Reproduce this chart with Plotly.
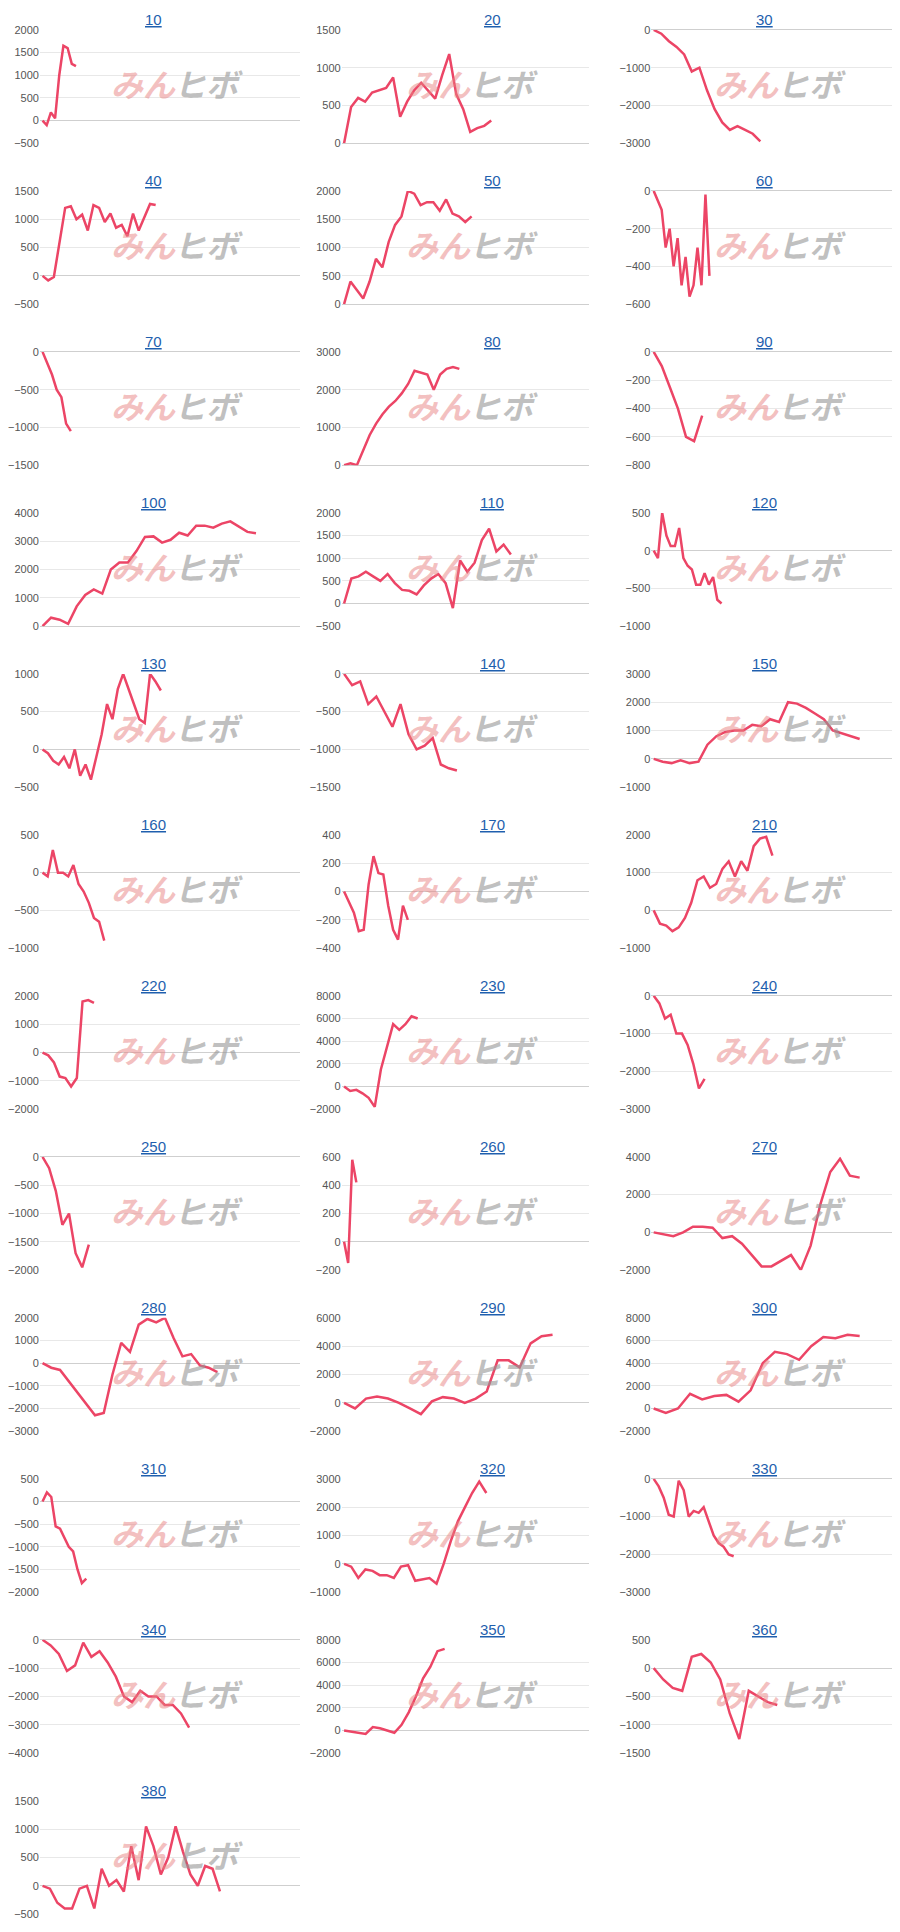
import numpy as np
import plotly.graph_objects as go

titles = ["10","20","30","40","50","60","70","80","90","100","110","120","130","140","150","160","170","210",
          "220","230","240","250","260","270","280","290","300","310","320","330","340","350","360","380"]
s10 = [0,-100,180,50,1000,1650,1600,1250,1200]
s20 = [0,480,600,550,670,700,730,870,350,550,700,800,700,590,900,1180,650,450,150,200,230,300]
s30 = [0,-100,-300,-450,-650,-1100,-1000,-1600,-2100,-2450,-2650,-2550,-2650,-2750,-2950]
s40 = [0,-80,-20,600,1200,1230,1000,1080,800,1250,1200,950,1100,850,900,700,1100,800,1050,1270,1250]
s50 = [0,400,250,100,400,800,650,1100,1400,1550,2000,1950,1750,1800,1800,1650,1850,1600,1550,1450,1550]
s60 = [0,-50,-100,-300,-200,-400,-250,-500,-350,-560,-500,-300,-500,-20,-450]
s70 = [0,-150,-300,-500,-600,-950,-1050]
s80 = [0,50,0,400,800,1100,1350,1550,1700,1900,2150,2500,2450,2400,2000,2400,2550,2600,2550]
s90 = [0,-100,-250,-400,-600,-630,-450]
s100 = [0,300,230,80,700,1100,1300,1150,2000,2250,2250,2650,3150,3170,2950,3050,3300,3200,3550,3550,3480,3620,3700,3500,3330,3280]
s110 = [0,550,600,700,600,500,650,450,300,280,200,400,550,650,450,-100,950,700,900,1400,1650,1150,1300,1080]
s120 = [0,-100,500,200,60,60,300,-100,-200,-250,-450,-450,-300,-450,-350,-650,-700]
s130 = [0,-50,-150,-200,-100,-250,0,-350,-200,-400,-100,200,600,400,800,1000,800,600,400,350,1000,900,780]
s140 = [0,-150,-100,-400,-300,-500,-700,-400,-800,-1000,-950,-850,-1200,-1250,-1280]
s150 = [0,-100,-150,-50,-150,-100,500,800,950,1000,1000,1200,1150,1400,1300,2000,1950,1800,1600,1400,1000,900,800,700]
s160 = [0,-50,300,0,0,-50,100,-150,-250,-400,-600,-650,-900]
s170 = [0,-80,-150,-280,-270,50,250,130,120,-100,-270,-340,-100,-200]
s210 = [0,-350,-400,-550,-450,-200,200,800,900,600,700,1100,1300,900,1300,1050,1700,1900,1950,1450]
s220 = [0,-100,-350,-850,-900,-1200,-900,1800,1850,1750]
s230 = [0,-400,-300,-600,-1000,-1800,1500,3500,5500,5000,5500,6200,6000]
s240 = [0,-200,-600,-500,-1000,-1000,-1300,-1800,-2450,-2200]
s250 = [0,-200,-600,-1200,-1000,-1700,-1950,-1550]
s260 = [0,-150,580,420]
s270 = [0,-100,-200,0,300,300,250,-300,-200,-600,-1200,-1800,-1800,-1500,-1200,-2000,-700,1500,3200,3900,3000,2900]
s280 = [0,-200,-300,-800,-1300,-1800,-2300,-2200,-500,900,500,1700,1950,1800,2000,1100,300,400,-100,-200,-400]
s290 = [0,-400,300,450,300,0,-400,-800,100,400,300,0,300,800,3000,3000,2500,4200,4700,4800]
s300 = [0,-400,0,1300,800,1100,1200,600,1600,4000,5000,4800,4300,5500,6300,6200,6500,6400]
s310 = [0,200,100,-550,-600,-800,-1000,-1100,-1500,-1800,-1700]
s320 = [0,-100,-500,-200,-250,-400,-400,-500,-100,-50,-600,-550,-500,-700,0,800,1500,2000,2500,2900,2500]
s330 = [0,-200,-500,-950,-1000,-50,-300,-1000,-850,-900,-750,-1100,-1500,-1700,-1800,-2000,-2050]
s340 = [0,-200,-500,-1100,-900,-100,-600,-400,-800,-1300,-2000,-2200,-1800,-2000,-2000,-2300,-2300,-2600,-3100]
s350 = [0,-100,-200,-300,300,200,0,-200,500,1600,3000,4600,5600,7000,7200]
s360 = [0,-200,-350,-400,200,250,100,-200,-800,-1250,-400,-500,-600,-650]
s380 = [0,-50,-300,-400,-400,-50,0,-400,300,0,100,-100,700,100,1050,700,200,500,1050,600,200,0,350,300,-100]
series = [s10,s20,s30,s40,s50,s60,s70,s80,s90,s100,s110,s120,s130,s140,s150,s160,s170,s210,
          s220,s230,s240,s250,s260,s270,s280,s290,s300,s310,s320,s330,s340,s350,s360,s380]
# fraction of period elapsed (x extent) for each series, in percent
spans = [13,60,44,44,52,23,11,47,20,83,68,28,46,46,85,24,26,49,20,30,21,18,5,85,68,85,85,17,58,33,57,41,51,69]
yranges = [(-500,2000),(0,1500),(-3000,0),(-500,1500),(0,2000),(-600,0),(-1500,0),(0,3000),(-800,0),
           (0,4000),(-500,2000),(-1000,500),(-500,1000),(-1500,0),(-1000,3000),(-1000,500),(-400,400),(-1000,2000),
           (-2000,2000),(-2000,8000),(-3000,0),(-2000,0),(-200,600),(-2000,4000),(-3000,2000),(-2000,6000),(-2000,8000),
           (-2000,500),(-1000,3000),(-3000,0),(-4000,0),(-2000,8000),(-1500,500),(-500,1500)]
dticks = [500,500,1000,500,500,200,500,1000,200,1000,500,500,500,500,1000,500,200,1000,
          1000,2000,1000,500,200,2000,1000,2000,2000,500,1000,1000,1000,2000,500,500]

W, H = 900, 1932
colpx = [(31, 291), (333, 581), (643, 888)]
titlex = [145, 484, 756]
fig = go.Figure()
for i, (t, s) in enumerate(zip(titles, series)):
    r, c = divmod(i, 3)
    n = i + 1
    xa = "x" if n == 1 else f"x{n}"
    ya = "y" if n == 1 else f"y{n}"
    top = 16 + 162 * r
    bot = 130 + 162 * r
    x0, x1 = colpx[c]
    xs = np.linspace(0, spans[i], len(s))
    fig.add_trace(go.Scatter(x=xs, y=s, mode="lines", line=dict(color="#ec4566", width=2.5),
                             xaxis=xa, yaxis=ya, showlegend=False, hoverinfo="skip"))
    fig.layout[f"xaxis{'' if n == 1 else n}"] = dict(domain=[x0 / W, x1 / W], range=[-1, 100],
        showgrid=False, showticklabels=False, zeroline=False, showline=False, anchor=ya, fixedrange=True)
    lo, hi = yranges[i]
    fig.layout[f"yaxis{'' if n == 1 else n}"] = dict(domain=[1 - bot / H, 1 - top / H], range=[lo, hi],
        dtick=dticks[i], showgrid=True, gridcolor="#e8e8e8", zeroline=True, zerolinecolor="#cfcfcf",
        zerolinewidth=1.2, tickfont=dict(size=11, color="#555", family="Liberation Sans Narrow, Liberation Sans"),
        anchor=xa, ticks="", showline=False)
    fig.add_annotation(x=titlex[c] / W, y=1 - (6 + 162 * r) / H, xref="paper", yref="paper",
        xanchor="center", yanchor="middle",
        text=f"<u>{t}</u>", showarrow=False, font=dict(size=15, color="#1f5fae", family="Liberation Sans"))
    mx = (x0 + 0.53 * (x1 - x0)) / W
    my = 1 - ((top + bot) / 2 - 4) / H
    fig.add_annotation(x=mx, y=my, xref="paper", yref="paper", xanchor="right", yanchor="middle",
        text="<b><i>みん</i></b>",
        showarrow=False, font=dict(size=32, color="rgba(232,130,130,0.5)", family="Noto Sans CJK JP"))
    fig.add_annotation(x=mx - 6 / W, y=my, xref="paper", yref="paper", xanchor="left", yanchor="middle",
        text="<b><i>ヒボ</i></b>",
        showarrow=False, font=dict(size=32, color="rgba(150,150,150,0.6)", family="Noto Sans CJK JP"))

fig.update_layout(width=W, height=H, margin=dict(l=0, r=0, t=0, b=0),
                  plot_bgcolor="white", paper_bgcolor="white")
fig.write_html("out.html")
